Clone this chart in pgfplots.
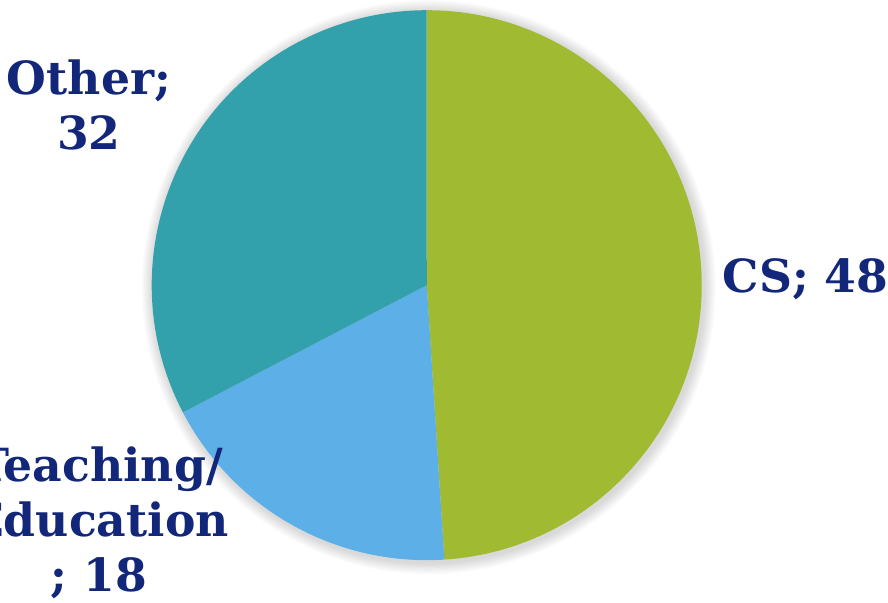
\documentclass[border=0pt]{standalone}
\usepackage{pgfplots}
\pgfplotsset{compat=1.18}
\usepackage{pgfplotstable}
\usepackage{fontspec}
\setmainfont{DejaVu Serif}
\definecolor{cscol}{HTML}{A0BA32}
\definecolor{teachcol}{HTML}{5DAFE8}
\definecolor{othercol}{HTML}{33A1AB}
\definecolor{txt}{HTML}{13277A}
\pgfplotstableread{
label value
CS 48
Teaching 18
Other 32
}\piedata
\begin{document}
\begin{tikzpicture}
\path[use as bounding box] (0,0) rectangle (8.88,6.02);
\clip (0,0) rectangle (8.88,6.02);
\pgfplotstablegetelem{0}{value}\of\piedata \let\va\pgfplotsretval
\pgfplotstablegetelem{1}{value}\of\piedata \let\vb\pgfplotsretval
\pgfplotstablegetelem{2}{value}\of\piedata \let\vc\pgfplotsretval
\pgfmathsetmacro\tot{\va+\vb+\vc}
\pgfmathsetmacro\angA{90}
\pgfmathsetmacro\angB{90-360*(\va/\tot)}
\pgfmathsetmacro\angC{\angB-360*(\vb/\tot)}
\pgfmathsetmacro\angD{\angC-360*(\vc/\tot)}
\begin{axis}[at={(0,0)},anchor=origin,x=0.01cm,y=0.01cm,
  xmin=0,xmax=888,ymin=0,ymax=602,hide axis,clip=false,scale only axis]
\pgfplotsinvokeforeach{10,9,...,1}{
  \fill[black,opacity=0.015] (axis cs:429,315) circle[radius={2.75cm+#1*0.012cm}];
}
\fill[cscol] (axis cs:427,317) -- ++(\angA:2.75cm) arc[start angle=\angA,end angle=\angB,radius=2.75cm] -- cycle;
\fill[teachcol] (axis cs:427,317) -- ++(\angB:2.75cm) arc[start angle=\angB,end angle=\angC,radius=2.75cm] -- cycle;
\fill[othercol] (axis cs:427,317) -- ++(\angC:2.75cm) arc[start angle=\angC,end angle=\angD,radius=2.75cm] -- cycle;
\node[font=\fontsize{13pt}{15.6pt}\selectfont\bfseries,text=txt,align=center] at (axis cs:89,497) {Other;\\32};
\node[font=\fontsize{13pt}{15.6pt}\selectfont\bfseries,text=txt,align=center] at (axis cs:806,323) {CS; 48};
\node[font=\fontsize{13pt}{15.6pt}\selectfont\bfseries,text=txt,align=center] at (axis cs:99,79) {Teaching/\\Education\\; 18};
\end{axis}
\end{tikzpicture}
\end{document}
